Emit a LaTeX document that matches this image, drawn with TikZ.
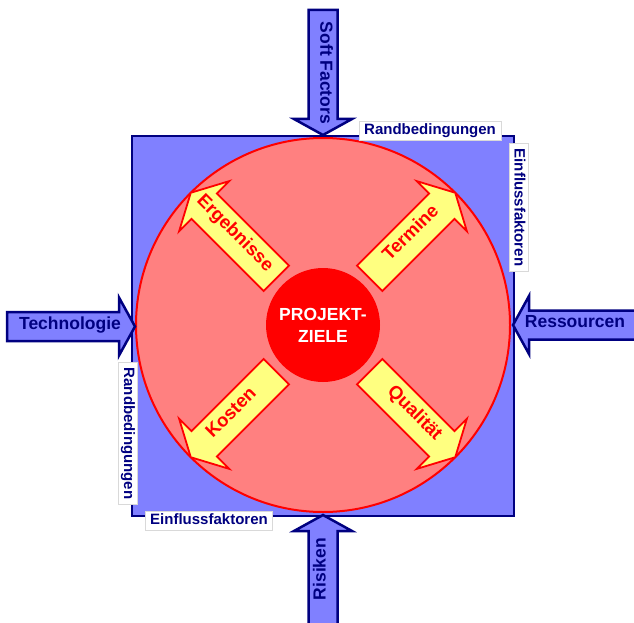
\documentclass[tikz,border=0pt]{standalone}
\usepackage{fontspec}
\setmainfont{Liberation Sans}

\definecolor{dunkelblau}{RGB}{0,0,128}
\definecolor{hellblau}{RGB}{128,128,255}
\definecolor{hellrot}{RGB}{255,128,128}
\definecolor{hellgelb}{RGB}{255,255,128}

\newcommand{\blockpfeil}[8]{%
  \draw[#1, shift={#2}, rotate=#3]
    (#4,-#6) -- (#5-#8,-#6) -- (#5-#8,-#7) -- (#5,0) -- (#5-#8,#7) -- (#5-#8,#6) -- (#4,#6) -- cycle;}

\begin{document}
\begin{tikzpicture}[
        x=1pt, y=-1pt,
        rahmen/.style={draw=dunkelblau, line width=2.5pt, fill=hellblau},
        zielkreis/.style={draw=red, line width=2pt, fill=hellrot},
        kern/.style={circle, fill=red, minimum size=114pt, inner sep=0pt, align=center, text=white, font=\fontsize{17.5}{22}\selectfont\bfseries},
        gelbpfeil/.style={draw=red, line width=1.8pt, fill=hellgelb, line join=miter},
        blaupfeil/.style={draw=dunkelblau, line width=2.5pt, fill=hellblau, line join=miter},
        pfeiltext/.style={font=\fontsize{17.5}{20}\selectfont\bfseries, text=dunkelblau, inner sep=0pt, text height=0.72em, text depth=0.2em},
        zieltext/.style={font=\fontsize{18.5}{21}\selectfont\bfseries, text=red, inner sep=0pt, text height=0.72em, text depth=0.2em},
        randtext/.style={font=\fontsize{15}{18}\selectfont\bfseries, text=dunkelblau, fill=white, draw=black!15, line width=0.6pt, inner xsep=5pt, inner ysep=2.4pt, text height=11pt, text depth=3.2pt}
    ]
    \clip (0,0) rectangle (634,623);
    \fill[white] (0,0) rectangle (634,623);

    \draw[rahmen] (132,136) rectangle (514,516);
    \draw[zielkreis] (323,325) circle[radius=187pt];

    \blockpfeil{gelbpfeil}{(323,325)}{45}{66}{187}{18}{35.5}{19}
    \blockpfeil{gelbpfeil}{(323,325)}{135}{66}{187}{18}{35.5}{19}
    \blockpfeil{gelbpfeil}{(323,325)}{225}{66}{187}{18}{35.5}{19}
    \blockpfeil{gelbpfeil}{(323,325)}{315}{66}{187}{18}{35.5}{19}

    \node[kern] (ziele) at (323,325) {PROJEKT-\\ZIELE};
    \node[zieltext, rotate=45] (termine) at (412.8,235.2) {Termine};
    \node[zieltext, rotate=-45] (ergebnisse) at (233.2,235.2) {Ergebnisse};
    \node[zieltext, rotate=45] (kosten) at (233.2,414.8) {Kosten};
    \node[zieltext, rotate=-45] (qualitaet) at (412.8,414.8) {Qualität};

    \node[randtext] (randoben) at (430,130.5) {Randbedingungen};
    \node[randtext, rotate=-90] (einflussrechts) at (518.5,207.5) {Einflussfaktoren};
    \node[randtext, rotate=-90] (randlinks) at (128,433.5) {Randbedingungen};
    \node[randtext] (einflussunten) at (209,520.5) {Einflussfaktoren};

    \blockpfeil{blaupfeil}{(323,10)}{-90}{0}{125}{14.5}{29}{16}
    \blockpfeil{blaupfeil}{(7,326.5)}{0}{0}{128}{14.5}{29}{16}
    \blockpfeil{blaupfeil}{(645,325)}{180}{0}{132}{14.5}{29}{16}
    \blockpfeil{blaupfeil}{(323,640)}{90}{0}{125}{14.5}{29}{16}

    \node[pfeiltext, rotate=-90] (softfactors) at (323,73) {Soft Factors};
    \node[pfeiltext] (technologie) at (70,326.5) {Technologie};
    \node[pfeiltext] (ressourcen) at (575,325) {Ressourcen};
    \node[pfeiltext, rotate=90] (risiken) at (323,569) {Risiken};
\end{tikzpicture}
\end{document}
